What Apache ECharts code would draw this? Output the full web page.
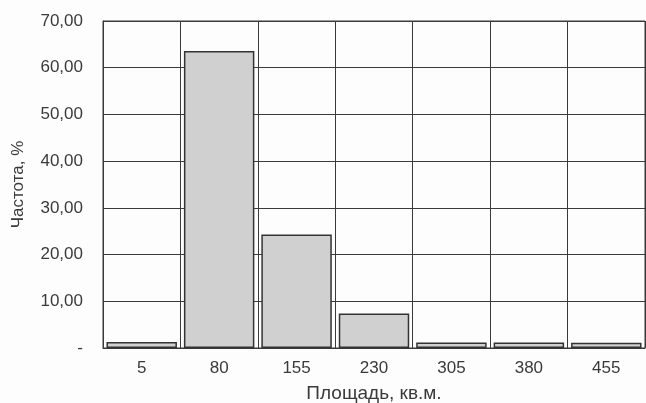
<!DOCTYPE html>
<html>
<head>
<meta charset="utf-8">
<script src="https://cdn.jsdelivr.net/npm/echarts@6/dist/echarts.min.js"></script>
<style>
  html, body { margin: 0; padding: 0; background: #fdfdfd; }
  #chart { width: 646px; height: 403px; }
</style>
</head>
<body>
<div id="chart"></div>
<script>
// Area bins (sq. m) and their share of all listings, %
const areaBins = ['5', '80', '155', '230', '305', '380', '455'];
const frequencyPct = [1.3, 63.6, 24.3, 7.4, 1.2, 1.2, 1.1];
const yTicks = [0, 10, 20, 30, 40, 50, 60, 70];

const chart = echarts.init(document.getElementById('chart'), null, { renderer: 'canvas' });
const textStyle = { fontFamily: 'Liberation Sans, Arial, sans-serif', fontSize: 17, color: '#3a3a3a' };

chart.setOption({
  animation: false,
  backgroundColor: '#fdfdfd',
  grid: {
    left: 103, right: 1, top: 21, bottom: 55,
    outerBoundsMode: 'none',
    show: true, borderColor: '#3a3a3a', borderWidth: 1, backgroundColor: 'transparent'
  },
  xAxis: {
    type: 'category',
    data: areaBins,
    name: 'Площадь, кв.м.',
    nameLocation: 'middle',
    nameGap: 36,
    nameTextStyle: Object.assign({}, textStyle, { fontSize: 19 }),
    axisLine: { show: true, lineStyle: { color: '#3a3a3a', width: 1 } },
    axisTick: { show: false },
    axisLabel: Object.assign({ margin: 12 }, textStyle),
    splitLine: { show: true, lineStyle: { color: '#3a3a3a', width: 1 } }
  },
  yAxis: {
    type: 'value',
    min: yTicks[0],
    max: yTicks[yTicks.length - 1],
    interval: 10,
    name: 'Частота, %',
    nameLocation: 'middle',
    nameGap: 76,
    nameTextStyle: textStyle,
    axisLine: { show: true, lineStyle: { color: '#3a3a3a', width: 1 } },
    axisTick: { show: false },
    axisLabel: Object.assign({
      margin: 20,
      formatter: v => v === 0 ? '-' : v.toFixed(2).replace('.', ',')
    }, textStyle),
    splitLine: { show: true, lineStyle: { color: '#3a3a3a', width: 1 } }
  },
  series: [{
    type: 'bar',
    data: frequencyPct,
    barCategoryGap: '9%',
    itemStyle: { color: '#d0d0d0', borderColor: '#333', borderWidth: 1.5 }
  }]
});
</script>
</body>
</html>
